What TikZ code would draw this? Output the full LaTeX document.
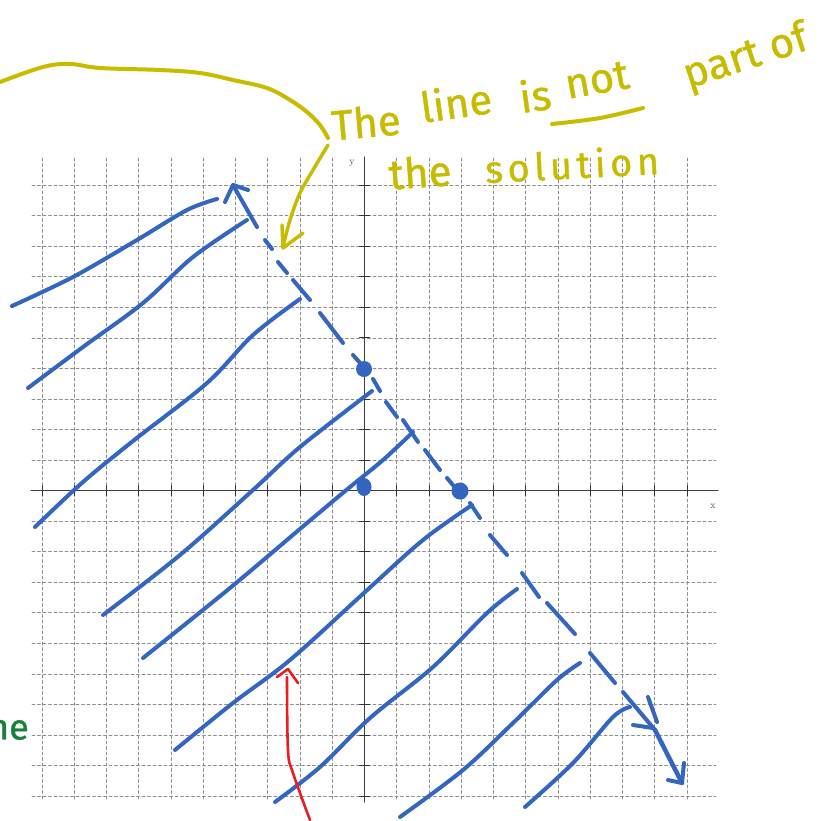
\documentclass[tikz,border=0pt]{standalone}
\usepackage{fontspec}
\newfontfamily\hand{Fira Sans}[FakeBold=1]
\definecolor{hatchc}{RGB}{52,101,192}
\definecolor{ylw}{RGB}{200,188,0}
\definecolor{grn}{RGB}{24,128,62}
\definecolor{rd}{RGB}{236,28,36}
\definecolor{gridc}{RGB}{140,140,140}
\begin{document}
\begin{tikzpicture}[x=1pt,y=-1pt,line cap=round,line join=round,
  gridline/.style={gridc,line width=0.9pt,dash pattern=on 3pt off 2.5pt},
  axisline/.style={black!75,line width=1.3pt},
  tickline/.style={black!80,line width=1pt},
  pen/.style={hatchc,line width=4pt},
  ypen/.style={ylw,line width=4pt},
  rpen/.style={rd,line width=2.6pt},
  ytext/.style={text=ylw,inner sep=0pt,font=\hand\fontsize{42}{42}\selectfont},
  axlab/.style={text=black!70,inner sep=0pt,font=\fontsize{10}{10}\selectfont}]
\useasboundingbox (0,0) rectangle (833,820);
\fill[white] (0,0) rectangle (833,820);
% grid
\foreach \k in {-10,...,10} {
  \draw[gridline] ({364.5+32.25*\k},158) -- ({364.5+32.25*\k},801);
  \draw[gridline] (32,{490.7-30.55*\k}) -- (716,{490.7-30.55*\k});
}
% axes
\draw[axisline] (31,490.7) -- (718,490.7);
\draw[axisline] (364.5,157) -- (364.5,802);
\foreach \k in {-10,...,-1,1,2,...,10} {
  \draw[tickline] ({364.5+32.25*\k},485.7) -- ++(0,10);
  \draw[tickline] (359.5,{490.7-30.55*\k}) -- ++(10,0);
}
\node[axlab] (ylab) at (352,163) {y};
\node[axlab] (xlab) at (713,506) {x};
% hatching strokes
\draw[pen] plot[smooth,tension=0.55] coordinates {(12,306) (73,277) (137,240) (187,210) (217,199)};
\draw[pen] plot[smooth,tension=0.55] coordinates {(28,388) (83,347) (143,303) (193,257) (247,220)};
\draw[pen] plot[smooth,tension=0.55] coordinates {(35,527) (83,482) (133,441) (207,383) (253,335) (300,299)};
\draw[pen] plot[smooth,tension=0.55] coordinates {(103,615) (180,555) (253,490) (300,447) (372,391)};
\draw[pen] plot[smooth,tension=0.55] coordinates {(143,658) (230,588) (307,523) (350,487) (383,460) (413,432)};
\draw[pen] plot[smooth,tension=0.55] coordinates {(175,750) (233,703) (290,660) (365,592) (423,540) (472,505)};
\draw[pen] plot[smooth,tension=0.55] coordinates {(275,802) (320,767) (370,718) (433,667) (487,613) (517,589)};
\draw[pen] plot[smooth,tension=0.55] coordinates {(400,817) (463,770) (513,723) (557,680) (580,663)};
\draw[pen] plot[smooth,tension=0.55] coordinates {(525,807) (573,763) (613,717) (630,707)};
% dashed boundary line, hand drawn
\draw[pen] (225,202) -- (233,185) -- (248,190);
\draw[pen] (233,185) -- (257,227);
\foreach \a/\b in {{265,240}/{272,249},{278,262}/{287,273},{293,280}/{310,300},{320,313}/{343,343},
  {353,355}/{368,372},{373,379}/{380,391},{386,402}/{397,417},{403,420}/{418,442},{425,450}/{440,470},
  {447,478}/{463,497},{470,503}/{480,518},{490,535}/{507,555},{522,573}/{539,597},{547,603}/{575,634},
  {590,653}/{615,683},{623,692}/{655,730}}
  \draw[pen] (\a) -- (\b);
\draw[pen,line width=4.5pt] (655,730) -- (682,783);
\draw[pen] (648,697) -- (657,722);
\draw[pen] (633,725) -- (653,728);
\draw[pen] (668,780) -- (682,783) -- (684,763);
% points
\fill[hatchc] (364,369) circle (8);
\fill[hatchc] (460,491) circle (8.5);
\fill[hatchc] (364,487) ellipse (7.5 and 9);
% yellow annotation
\draw[ypen] plot[smooth,tension=0.6] coordinates {(0,82) (43,67) (70,64) (100,68) (160,70) (200,73) (233,80) (267,88) (290,100) (307,112) (320,125) (328,138)};
\draw[ypen,line width=3.5pt] plot[smooth,tension=0.6] coordinates {(328,145) (313,170) (300,193) (290,220) (283,247)};
\draw[ypen,line width=3.5pt] (282,225) -- (283,248) -- (303,233);
\node[ytext,rotate=5] (w1) at (366,122) {The};
\node[ytext,rotate=8] (w2) at (456,102) {line};
\node[ytext,rotate=8] (w3) at (535,95) {is};
\node[ytext,rotate=10] (w4) at (597,80) {not};
\draw[ypen] plot[smooth,tension=0.6] coordinates {(552,124) (600,118) (643,108)};
\node[ytext,rotate=18] (w5) at (746,58) {part of};
\node[ytext,rotate=4] (w7) at (420,172) {the};
\node[ytext,rotate=3,font=\hand\fontsize{38}{38}\selectfont\addfontfeature{LetterSpace=12}] (w8) at (572,164) {solution};
% green fragment
\node[text=grn,inner sep=0pt,anchor=east,font=\hand\fontsize{36}{36}\selectfont] (g1) at (29,730) {ne};
% red arrow
\draw[rpen] plot[smooth,tension=0.6] coordinates {(310,820) (293,773) (288,750) (287,677)};
\draw[rpen] (277,677) -- (288,669) -- (298,683);
\end{tikzpicture}
\end{document}
